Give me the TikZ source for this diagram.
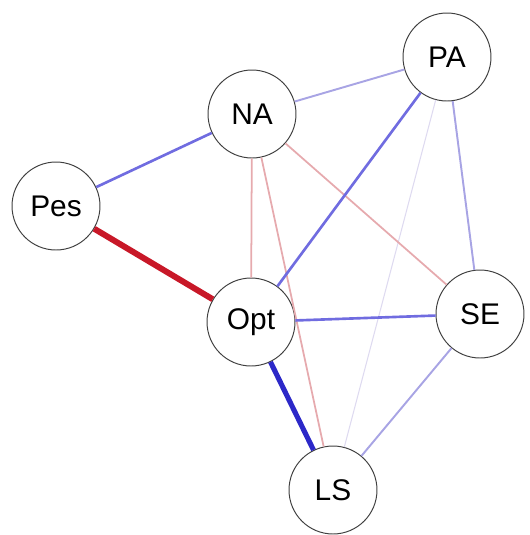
\documentclass[tikz,border=0pt]{standalone}
\usepackage{fontspec}
\setmainfont{Liberation Sans}
\usepackage{xcolor}
\definecolor{negstrong}{RGB}{200,24,40}
\definecolor{posstrong}{RGB}{44,40,200}
\definecolor{posmid}{RGB}{112,108,224}
\definecolor{poslight}{RGB}{168,164,228}
\definecolor{neglight}{RGB}{230,170,174}
\definecolor{faint}{RGB}{222,218,240}

\begin{document}
\begin{tikzpicture}[x=0.02cm,y=-0.02cm,
  var/.style={circle,draw=black!75,line width=0.55pt,fill=white,minimum size=1.76cm,inner sep=0pt,font=\fontsize{17}{20}\selectfont},
  negthick/.style={negstrong,line width=3.4pt},
  posthick/.style={posstrong,line width=2.9pt},
  posmed/.style={posmid,line width=1.5pt},
  posthin/.style={poslight,line width=1.1pt},
  negthin/.style={neglight,line width=1pt},
  veryfaint/.style={faint,line width=0.6pt}]
\useasboundingbox (0,0) rectangle (529,535);
\node[var] (PA) at (447,57) {PA};
\node[var] (NA) at (252,114) {NA};
\node[var] (Pes) at (56,206) {Pes};
\node[var] (Opt) at (251,322) {Opt};
\node[var] (SE) at (480,314) {SE};
\node[var] (LS) at (333,490) {LS};
% edges
\draw[veryfaint] (PA) -- (LS);
\draw[negthin] (NA) -- (Opt);
\draw[negthin] (NA) -- (LS);
\draw[negthin] (NA) -- (SE);
\draw[posthin] (NA) -- (PA);
\draw[posthin] (PA) -- (SE);
\draw[posthin] (SE) -- (LS);
\draw[posmed] (Pes) -- (NA);
\draw[posmed] (PA) -- (Opt);
\draw[posmed] (Opt) -- (SE);
\draw[posthick] (Opt) -- (LS);
\draw[negthick] (Pes) -- (Opt);
\end{tikzpicture}
\end{document}
